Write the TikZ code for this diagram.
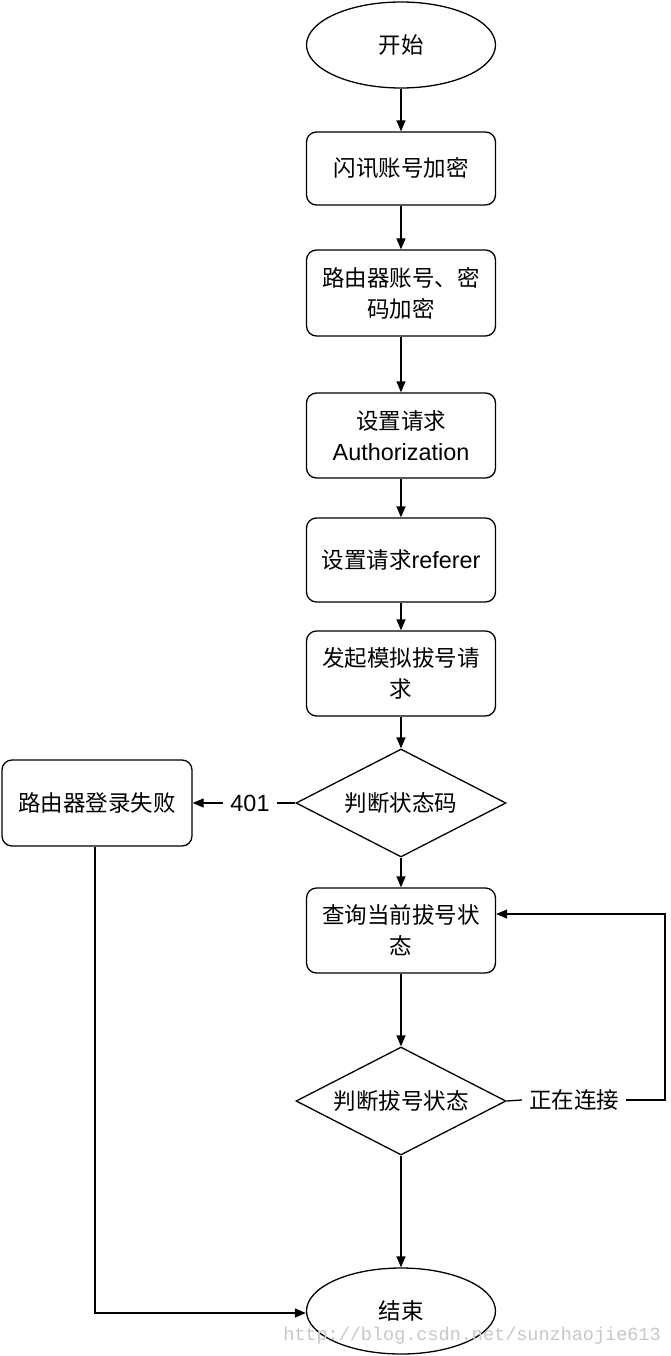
\documentclass[tikz,border=0pt]{standalone}
\usepackage{fontspec}
\setmainfont{Noto Sans CJK SC}
\newfontfamily\latfont[Scale=1.04]{Liberation Sans}
\newfontfamily\wmfont{Liberation Mono}
\usetikzlibrary{shapes.geometric,arrows.meta}
\begin{document}
\begin{tikzpicture}[x=1pt,y=-1pt,
  base/.style={draw=black,line width=1.3pt,font=\fontsize{22.5}{31}\selectfont,align=center,inner sep=0pt},
  proc/.style={base,rectangle,rounded corners=10pt,minimum width=189pt,minimum height=85pt},
  term/.style={base,ellipse,minimum width=189pt,minimum height=86pt},
  decide/.style={base,diamond,aspect=1.95,minimum width=210pt,minimum height=108pt},
  lbl/.style={font=\fontsize{22.5}{26}\selectfont,inner xsep=7pt,inner ysep=2pt},
  conn/.style={line width=1.3pt,-{Triangle[length=11pt,width=9pt]}},
  plain/.style={line width=1.3pt}]
\useasboundingbox (0,0) rectangle (670,1356);
\node[term] (start) at (401,45) {开始};
\node[proc,minimum height=73pt] (b1) at (401,168.5) {闪讯账号加密};
\node[proc,minimum height=86pt] (b2) at (401,293) {路由器账号、密\\码加密};
\node[proc] (b3) at (401,435.5) {设置请求\\{\latfont Authorization}};
\node[proc,minimum height=84pt] (b4) at (401,560) {设置请求{\latfont referer}};
\node[proc] (b5) at (401,673.5) {发起模拟拔号请\\求};
\node[decide] (d1) at (401,803) {判断状态码};
\node[proc,minimum width=190pt,minimum height=86pt] (fail) at (97,803) {路由器登录失败};
\node[lbl] (l401) at (250,803) {\latfont 401};
\node[proc] (query) at (401,930.5) {查询当前拔号状\\态};
\node[decide] (d2) at (401,1101) {判断拔号状态};
\node[lbl] (lconn) at (574,1100) {正在连接};
\node[term] (end) at (401,1311) {结束};
\coordinate (r1) at (665,1100);
\coordinate (r2) at (665,914);
\coordinate (f1) at (95,1313);
\draw[conn] (start) -- (b1);
\draw[conn] (b1) -- (b2);
\draw[conn] (b2) -- (b3);
\draw[conn] (b3) -- (b4);
\draw[conn] (b4) -- (b5);
\draw[conn] (b5) -- (d1);
\draw[conn] (d1) -- (query);
\draw[plain] (d1.west) -- (l401.east);
\draw[conn] (l401.west) -- (fail.east);
\draw[conn] (query) -- (d2);
\draw[plain] (d2.east) -- (lconn.west);
\draw[conn] (lconn.east) -- (r1) -- (r2) -- (query.east |- r2);
\draw[conn] (d2) -- (end);
\draw[conn] (fail.south -| f1) -- (f1) -- (end.west |- f1);
\node[font=\wmfont\fontsize{18.5}{20}\selectfont,text=black!22,inner sep=0pt] (wm) at (472,1336) {http://blog.csdn.net/sunzhaojie613};
\end{tikzpicture}
\end{document}
